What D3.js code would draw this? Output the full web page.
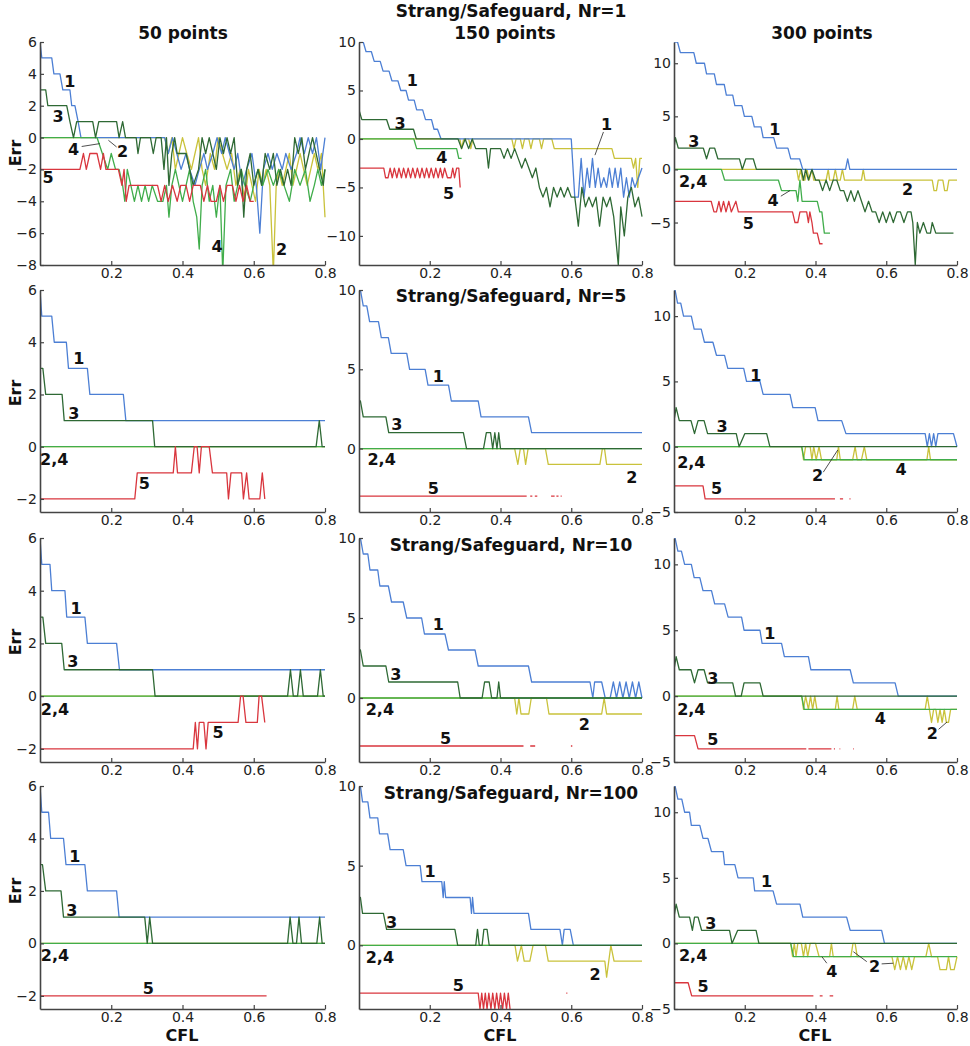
<!DOCTYPE html>
<html>
<head>
<meta charset="utf-8">
<script src="https://cdn.jsdelivr.net/npm/d3@7"></script>
<style>
body { margin: 0; background: #fff; }
text { font-family: "DejaVu Sans", sans-serif; }
</style>
</head>
<body>
<svg id="chart" width="970" height="1046"></svg>
<script>
// Err vs CFL, Strang/Safeguard; rows = Nr, columns = grid points
// each series: [CFL, Err] vertices, null Err = gap in the line

const rowNames = ["Strang/Safeguard, Nr=1", "Strang/Safeguard, Nr=5", "Strang/Safeguard, Nr=10", "Strang/Safeguard, Nr=100"];
const colNames = ["50 points", "150 points", "300 points"];
const xTicks = [0.2, 0.4, 0.6, 0.8];
const yDomainNr1 = [[-8, 6], [-13, 10], [-9, 12]];
const yDomainRest = [[-2.5, 6], [-4, 10], [-5, 12]];
const yTicksNr1 = [[-8, -6, -4, -2, 0, 2, 4, 6], [-10, -5, 0, 5, 10], [-5, 0, 5, 10]];
const yTicksRest = [[-2, 0, 2, 4, 6], [0, 5, 10], [-5, 0, 5, 10]];
const zeroLine = [[0, 0], [0.8, 0]];

// ---------- Nr = 1 ----------
const nr1_p50_s1 = [[0,6],[0.005,5],[0.033,5],[0.039,4],[0.056,4],[0.064,3],[0.084,3],[0.089,2],[0.098,2],[0.107,1],[0.115,0],[0.35,0],[0.36,-1],[0.372,0],[0.384,-1],[0.396,-2],[0.41,-1],[0.42,-2],[0.435,-3],[0.447,-2],[0.46,-1],[0.47,-2],[0.485,-1],[0.497,0],[0.51,-1],[0.52,0],[0.532,-1],[0.545,-2],[0.555,-1],[0.568,-3],[0.58,-2],[0.595,-1],[0.607,-3],[0.617,-6],[0.627,-2],[0.64,-1],[0.652,-2],[0.665,-1],[0.68,-2],[0.69,-1],[0.705,-2],[0.72,-1],[0.73,0],[0.742,-1],[0.753,0],[0.765,-1],[0.776,0],[0.788,-2],[0.8,0]];
const nr1_p50_s2 = [[0,0],[0.35,0],[0.36,-1],[0.37,0],[0.38,-2],[0.39,-1],[0.4,0],[0.412,-1],[0.425,-2],[0.435,-1],[0.445,0],[0.455,-2],[0.465,-3],[0.478,-1],[0.49,-2],[0.5,0],[0.512,-1],[0.525,-2],[0.538,-1],[0.55,-3],[0.562,-2],[0.575,-4],[0.585,-2],[0.595,-3],[0.605,-4],[0.615,-2],[0.625,-3],[0.635,-2],[0.645,-3],[0.655,-8.5],[0.663,-3],[0.67,-2],[0.68,-3],[0.69,-2],[0.7,-1],[0.71,-3],[0.72,-2],[0.73,-1],[0.74,-2],[0.75,-3],[0.76,-2],[0.77,-1],[0.78,-2],[0.79,-1],[0.8,-5]];
const nr1_p50_s3 = [[0,3],[0.016,3],[0.022,2],[0.075,2],[0.084,1],[0.094,0],[0.103,1],[0.148,1],[0.156,0],[0.165,1],[0.215,1],[0.222,0],[0.232,1],[0.24,0],[0.27,0],[0.275,-1],[0.282,0],[0.31,0],[0.318,-1],[0.326,0],[0.34,0],[0.348,-2],[0.355,0],[0.362,-3],[0.37,-1],[0.378,0],[0.385,-1],[0.41,-1],[0.42,-2],[0.43,-3],[0.445,-2],[0.455,0],[0.465,-1],[0.475,0],[0.485,-1],[0.495,-2],[0.505,0],[0.515,-1],[0.525,0],[0.535,-1],[0.545,0],[0.555,-3],[0.565,-2],[0.572,-5],[0.58,-2],[0.59,-1],[0.6,-3],[0.612,-2],[0.622,-3],[0.632,-1],[0.645,-2],[0.655,-1],[0.665,-3],[0.675,-2],[0.685,-3],[0.695,-2],[0.705,-3],[0.715,0],[0.725,-1],[0.735,0],[0.745,-2],[0.755,-1],[0.765,0],[0.775,-1],[0.785,-2],[0.795,-3],[0.8,-2]];
const nr1_p50_s4 = [[0,0],[0.16,0],[0.175,-1],[0.19,-2],[0.2,-1],[0.212,-2],[0.222,-2],[0.232,-3],[0.238,-4],[0.245,-2],[0.255,-3],[0.265,-4],[0.275,-3],[0.285,-4],[0.295,-3],[0.305,-4],[0.315,-3],[0.33,-4],[0.345,-4],[0.355,-3],[0.362,-5],[0.37,-3],[0.38,-2],[0.39,-3],[0.4,-4],[0.41,-3],[0.42,-2],[0.43,-4],[0.44,-5],[0.447,-7],[0.455,-3],[0.465,-2],[0.475,-4],[0.485,-3],[0.495,-5],[0.505,-3],[0.513,-8.5],[0.522,-3],[0.535,-2],[0.545,-4],[0.555,-3],[0.565,-2],[0.575,-3],[0.59,-4],[0.6,-3],[0.612,-2],[0.625,-3],[0.64,-2],[0.655,-3],[0.67,-2],[0.685,-3],[0.7,-4],[0.715,-2],[0.73,-3],[0.745,-2],[0.758,-4],[0.77,-3],[0.78,-2],[0.79,-3],[0.8,-2]];
const nr1_p50_s5 = [[0,-2],[0.112,-2],[0.122,-1],[0.13,-2],[0.14,-1],[0.16,-1],[0.17,-2],[0.178,-1],[0.185,-2],[0.22,-2],[0.23,-3],[0.236,-2],[0.242,-4],[0.25,-3],[0.33,-3],[0.34,-4],[0.35,-3],[0.36,-4],[0.372,-3],[0.385,-4],[0.395,-3],[0.41,-3],[0.42,-4],[0.43,-3],[0.45,-3],[0.46,-4],[0.47,-3],[0.48,-4],[0.495,-4],[0.505,-3],[0.515,-4],[0.525,-3],[0.54,-3],[0.55,-4],[0.56,-3],[0.57,-4],[0.58,-3],[0.59,-4],[0.6,-4]];
const nr1_p50_labels = [["1",0.084,3.55],["3",0.051,1.36],["4",0.094,-0.73],["2",0.232,-0.84],["5",0.023,-2.5],["4",0.497,-6.8],["2",0.678,-7.0]];
const nr1_p50_leaders = [[0.117,-0.56,0.168,-0.38],[0.215,-0.59,0.192,-0.17]];

const nr1_p150_s1 = [[0,10],[0.012,10],[0.02,9],[0.035,9],[0.043,8],[0.06,8],[0.068,7],[0.085,7],[0.093,6],[0.11,6],[0.118,5],[0.133,5],[0.14,4],[0.156,4],[0.163,3],[0.18,3],[0.188,2],[0.205,2],[0.212,1],[0.222,1],[0.232,0],[0.6,0],[0.61,-6],[0.62,-6],[0.628,-2],[0.636,-6],[0.645,-3],[0.652,-5],[0.66,-2],[0.668,-5],[0.676,-3],[0.684,-5],[0.692,-4],[0.7,-5],[0.708,-3],[0.716,-5],[0.724,-3],[0.732,-5],[0.74,-3],[0.748,-6],[0.756,-4],[0.764,-6],[0.772,-4],[0.78,-5],[0.79,-4],[0.8,-3]];
const nr1_p150_s2 = [[0,0],[0.285,0],[0.29,-1],[0.296,0],[0.31,0],[0.316,-1],[0.322,0],[0.432,0],[0.438,-1],[0.444,0],[0.456,0],[0.462,-1],[0.468,0],[0.48,0],[0.486,-1],[0.492,0],[0.51,0],[0.516,-1],[0.522,0],[0.545,0],[0.552,-1],[0.715,-1],[0.722,-2],[0.77,-2],[0.776,-3],[0.782,-2],[0.788,-5],[0.794,-2],[0.8,-2]];
const nr1_p150_s3 = [[0,3],[0.008,2],[0.078,2],[0.087,1],[0.154,1],[0.162,0],[0.28,0],[0.29,-1],[0.3,0],[0.31,-1],[0.32,0],[0.33,-1],[0.36,-1],[0.366,-3],[0.372,-1],[0.4,-1],[0.41,-2],[0.42,-1],[0.43,-2],[0.44,-1],[0.45,-2],[0.46,-3],[0.47,-2],[0.48,-3],[0.49,-4],[0.5,-3],[0.51,-5],[0.52,-6],[0.53,-5],[0.54,-7],[0.55,-5],[0.56,-6],[0.57,-5],[0.58,-6],[0.59,-5],[0.6,-6],[0.61,-6],[0.62,-9],[0.63,-5],[0.64,-7],[0.65,-6],[0.66,-7],[0.67,-6],[0.68,-9],[0.69,-6],[0.7,-7],[0.71,-6],[0.72,-8],[0.733,-13],[0.74,-7],[0.75,-10],[0.76,-6],[0.77,-5],[0.78,-7],[0.79,-6],[0.8,-8]];
const nr1_p150_s4 = [[0,0],[0.155,0],[0.163,-1],[0.276,-1],[0.282,-2],[0.29,-2]];
const nr1_p150_s5 = [[0,-3],[0.07,-3],[0.075,-4],[0.082,-4],[0.088,-3],[0.094,-4],[0.1,-3],[0.107,-4],[0.113,-3],[0.12,-4],[0.126,-3],[0.133,-4],[0.139,-3],[0.146,-4],[0.152,-3],[0.159,-4],[0.165,-3],[0.172,-4],[0.178,-3],[0.185,-4],[0.191,-3],[0.198,-4],[0.204,-3],[0.211,-4],[0.217,-3],[0.224,-4],[0.23,-3],[0.236,-4],[0.242,-3],[0.25,-4],[0.26,-4],[0.265,-3],[0.27,-4],[0.276,-3],[0.282,-3],[0.286,-5]];
const nr1_p150_labels = [["1",0.151,6.1],["3",0.116,1.6],["1",0.70,1.5],["4",0.234,-1.9],["5",0.253,-5.6]];
const nr1_p150_leaders = [[0.691,0.72,0.667,-1.67]];

const nr1_p300_s1 = [[0,12],[0.01,12],[0.018,11],[0.056,11],[0.063,10],[0.086,10],[0.092,9],[0.114,9],[0.12,8],[0.142,8],[0.148,7],[0.166,7],[0.172,6],[0.192,6],[0.199,5],[0.22,5],[0.227,4],[0.246,4],[0.252,3],[0.282,3],[0.29,2],[0.322,2],[0.33,1],[0.355,1],[0.364,0],[0.485,0],[0.491,1],[0.497,0],[0.8,0]];
const nr1_p300_s2 = [[0,0],[0.347,0],[0.352,-1],[0.358,0],[0.363,-1],[0.37,-1],[0.376,0],[0.382,-1],[0.39,0],[0.395,-1],[0.43,-1],[0.436,0],[0.44,-1],[0.45,-1],[0.456,0],[0.462,-1],[0.47,-1],[0.476,0],[0.482,-1],[0.53,-1],[0.535,0],[0.54,-1],[0.73,-1],[0.735,-2],[0.742,-2],[0.747,-1],[0.76,-1],[0.765,-2],[0.772,-2],[0.777,-1],[0.8,-1]];
const nr1_p300_s3 = [[0,2],[0.004,3],[0.012,2],[0.083,2],[0.092,1],[0.101,2],[0.115,2],[0.124,1],[0.185,1],[0.193,0],[0.203,1],[0.224,1],[0.233,0],[0.36,0],[0.366,-1],[0.372,0],[0.38,-1],[0.39,0],[0.4,-1],[0.41,-1],[0.42,-2],[0.43,-1],[0.44,-2],[0.45,-1],[0.46,-1],[0.47,-2],[0.48,-2],[0.49,-3],[0.5,-2],[0.51,-3],[0.52,-2],[0.53,-3],[0.54,-4],[0.55,-3],[0.56,-4],[0.57,-4],[0.58,-5],[0.59,-4],[0.6,-5],[0.61,-4],[0.62,-5],[0.63,-4],[0.64,-4],[0.65,-5],[0.66,-4],[0.67,-4],[0.675,-5],[0.682,-9],[0.688,-5],[0.695,-6],[0.705,-5],[0.715,-6],[0.725,-6],[0.73,-5],[0.74,-6],[0.79,-6]];
const nr1_p300_s4 = [[0,0],[0.134,0],[0.143,-1],[0.295,-1],[0.304,-2],[0.345,-2],[0.35,-3],[0.356,-1],[0.362,-3],[0.405,-3],[0.412,-4],[0.418,-4],[0.425,-6],[0.441,-6]];
const nr1_p300_s5 = [[0,-3],[0.105,-3],[0.113,-4],[0.12,-4],[0.127,-3],[0.133,-4],[0.14,-3],[0.147,-4],[0.155,-3],[0.162,-4],[0.175,-3],[0.182,-4],[0.335,-4],[0.342,-5],[0.35,-5],[0.356,-4],[0.375,-4],[0.38,-5],[0.384,-4],[0.39,-5],[0.394,-6],[0.405,-6],[0.412,-7],[0.42,-7]];
const nr1_p300_labels = [["3",0.056,2.7],["1",0.285,3.8],["2,4",0.054,-1.1],["4",0.28,-2.9],["5",0.21,-5.05],["2",0.66,-1.9]];
const nr1_p300_leaders = [[0.302,-2.52,0.328,-1.99]];

// ---------- Nr = 5 ----------
const nr5_p50_s1 = [[0,6],[0.005,5],[0.033,5],[0.04,4],[0.074,4],[0.08,3],[0.133,3],[0.14,2],[0.234,2],[0.241,1],[0.8,1]];
const nr5_p50_s3 = [[0,3],[0.008,3],[0.016,2],[0.062,2],[0.068,1],[0.316,1],[0.322,0],[0.775,0],[0.784,1],[0.792,0],[0.8,0]];
const nr5_p50_s5 = [[0,-2],[0.266,-2],[0.273,-1],[0.374,-1],[0.38,0],[0.386,-1],[0.425,-1],[0.433,0],[0.441,0],[0.447,-1],[0.453,0],[0.475,0],[0.484,-1],[0.524,-1],[0.529,-2],[0.536,-1],[0.566,-1],[0.571,-2],[0.58,-1],[0.587,-2],[0.617,-2],[0.624,-1],[0.631,-2]];
const nr5_p50_labels = [["1",0.109,3.4],["3",0.095,1.3],["2,4",0.04,-0.47],["5",0.293,-1.38]];

const nr5_p150_s1 = [[0,10],[0.004,10],[0.012,9],[0.022,9],[0.03,8],[0.055,8],[0.063,7],[0.083,7],[0.091,6],[0.135,6],[0.143,5],[0.187,5],[0.195,4],[0.253,4],[0.261,3],[0.337,3],[0.345,2],[0.479,2],[0.488,1],[0.8,1]];
const nr5_p150_s2 = [[0,0],[0.44,0],[0.449,-1],[0.456,0],[0.465,0],[0.471,-1],[0.478,0],[0.527,0],[0.535,-1],[0.681,-1],[0.688,0],[0.694,0],[0.7,-1],[0.8,-1]];
const nr5_p150_s3 = [[0,3],[0.004,3],[0.012,2],[0.076,2],[0.084,1],[0.295,1],[0.304,0],[0.352,0],[0.36,1],[0.372,1],[0.378,0],[0.384,1],[0.39,0],[0.395,1],[0.4,0],[0.8,0]];
const nr5_p150_s5 = [[0,-3],[0.474,-3],[0.476,null],[0.484,-3],[0.49,-3],[0.492,null],[0.497,-3],[0.504,-3],[0.506,null],[0.543,-3],[0.553,-3],[0.555,null],[0.558,-3],[0.564,-3],[0.566,null],[0.57,-3],[0.573,-3]];
const nr5_p150_labels = [["1",0.224,4.56],["3",0.107,1.53],["2,4",0.064,-0.67],["5",0.21,-2.5],["2",0.771,-1.82]];

const nr5_p300_s1 = [[0,12],[0.003,12],[0.01,11],[0.019,11],[0.027,10],[0.049,10],[0.057,9],[0.077,9],[0.086,8],[0.11,8],[0.12,7],[0.143,7],[0.152,6],[0.197,6],[0.205,5],[0.243,5],[0.252,4],[0.328,4],[0.336,3],[0.399,3],[0.407,2],[0.474,2],[0.486,1],[0.71,1],[0.716,0],[0.722,1],[0.728,0],[0.734,1],[0.74,0],[0.746,1],[0.79,1],[0.8,0]];
const nr5_p300_s2 = [[0,0],[0.361,0],[0.366,-1],[0.372,0],[0.385,0],[0.39,-1],[0.395,0],[0.402,-1],[0.41,0],[0.417,-1],[0.46,-1],[0.465,0],[0.47,-1],[0.505,-1],[0.512,0],[0.518,-1],[0.53,-1],[0.538,0],[0.545,-1],[0.715,-1],[0.72,0],[0.725,-1],[0.8,-1]];
const nr5_p300_s3 = [[0,2],[0.006,3],[0.015,2],[0.048,2],[0.058,1],[0.068,2],[0.085,2],[0.095,1],[0.176,1],[0.184,0],[0.2,1],[0.262,1],[0.271,0],[0.8,0]];
const nr5_p300_s4 = [[0,0],[0.361,0],[0.368,-1],[0.8,-1]];
const nr5_p300_s5 = [[0,-3],[0.082,-3],[0.088,-4],[0.455,-4],[0.457,null],[0.469,-4],[0.478,-4],[0.48,null],[0.496,-4],[0.499,-4]];
const nr5_p300_labels = [["1",0.231,5.5],["3",0.136,1.6],["2,4",0.049,-1.2],["2",0.406,-2.2],["4",0.642,-1.75],["5",0.12,-3.2]];
const nr5_p300_leaders = [[0.422,-1.95,0.463,-0.25]];

// ---------- Nr = 10 ----------
const nr10_p50_s1 = [[0,6],[0.005,5],[0.028,5],[0.033,4],[0.07,4],[0.075,3],[0.126,3],[0.133,2],[0.215,2],[0.223,1],[0.8,1]];
const nr10_p50_s3 = [[0,3],[0.008,3],[0.016,2],[0.061,2],[0.068,1],[0.316,1],[0.323,0],[0.695,0],[0.703,1],[0.711,0],[0.723,0],[0.731,1],[0.739,0],[0.779,0],[0.787,1],[0.795,0],[0.8,0]];
const nr10_p50_s5 = [[0,-2],[0.43,-2],[0.436,-1],[0.442,-2],[0.447,-1],[0.46,-1],[0.466,-2],[0.472,-1],[0.556,-1],[0.563,0],[0.57,0],[0.578,-1],[0.61,-1],[0.615,0],[0.622,0],[0.631,-1]];
const nr10_p50_labels = [["1",0.101,3.33],["3",0.092,1.31],["2,4",0.042,-0.48],["5",0.5,-1.36]];

const nr10_p150_s1 = [[0,10],[0.004,10],[0.012,9],[0.025,9],[0.031,8],[0.053,8],[0.059,7],[0.083,7],[0.092,6],[0.125,6],[0.135,5],[0.177,5],[0.185,4],[0.243,4],[0.253,3],[0.328,3],[0.337,2],[0.479,2],[0.488,1],[0.653,1],[0.661,0],[0.666,1],[0.686,1],[0.696,0],[0.71,0],[0.719,1],[0.728,0],[0.737,1],[0.746,0],[0.755,1],[0.764,0],[0.773,1],[0.782,0],[0.791,1],[0.8,0]];
const nr10_p150_s2 = [[0,0],[0.44,0],[0.446,-1],[0.452,0],[0.458,-1],[0.48,-1],[0.487,0],[0.53,0],[0.537,-1],[0.686,-1],[0.693,0],[0.7,-1],[0.8,-1]];
const nr10_p150_s3 = [[0,3],[0.004,3],[0.012,2],[0.076,2],[0.084,1],[0.279,1],[0.286,0],[0.348,0],[0.355,1],[0.368,1],[0.375,0],[0.39,0],[0.395,1],[0.4,0],[0.8,0]];
const nr10_p150_s5 = [[0,-3],[0.465,-3],[0.467,null],[0.484,-3],[0.498,-3],[0.5,null],[0.599,-3],[0.603,-3]];
const nr10_p150_labels = [["1",0.224,4.58],["3",0.104,1.5],["2,4",0.059,-0.73],["5",0.245,-2.54],["2",0.637,-1.63]];

const nr10_p300_s1 = [[0,12],[0.003,12],[0.011,11],[0.021,11],[0.03,10],[0.049,10],[0.057,9],[0.073,9],[0.082,8],[0.106,8],[0.115,7],[0.143,7],[0.153,6],[0.191,6],[0.198,5],[0.243,5],[0.249,4],[0.304,4],[0.312,3],[0.38,3],[0.387,2],[0.498,2],[0.507,1],[0.625,1],[0.634,0],[0.8,0]];
const nr10_p300_s2 = [[0,0],[0.361,0],[0.366,-1],[0.372,0],[0.38,-1],[0.386,0],[0.392,-1],[0.398,0],[0.404,-1],[0.456,-1],[0.461,0],[0.466,-1],[0.505,-1],[0.511,0],[0.518,-1],[0.71,-1],[0.716,0],[0.722,-1],[0.728,-2],[0.734,-1],[0.74,-1],[0.746,-2],[0.752,-1],[0.758,-2],[0.764,-1],[0.77,-2],[0.776,-2],[0.782,-1],[0.8,-1]];
const nr10_p300_s3 = [[0,2],[0.006,3],[0.015,2],[0.048,2],[0.058,1],[0.068,2],[0.085,2],[0.095,1],[0.166,1],[0.174,0],[0.19,0],[0.198,1],[0.243,1],[0.252,0],[0.8,0]];
const nr10_p300_s4 = [[0,0],[0.361,0],[0.368,-1],[0.8,-1]];
const nr10_p300_s5 = [[0,-3],[0.058,-3],[0.068,-4],[0.374,-4],[0.376,null],[0.38,-4],[0.445,-4],[0.447,null],[0.452,-4],[0.455,-4],[0.457,null],[0.468,-4],[0.47,-4],[0.472,null],[0.506,-4],[0.508,-4]];
const nr10_p300_labels = [["1",0.271,4.74],["3",0.11,1.39],["2,4",0.049,-1.0],["4",0.583,-1.71],["2",0.73,-2.85],["5",0.11,-3.27]];
const nr10_p300_leaders = [[0.748,-2.52,0.772,-1.96]];

// ---------- Nr = 100 ----------
const nr100_p50_s1 = [[0,6],[0.005,5],[0.024,5],[0.03,4],[0.066,4],[0.073,3],[0.126,3],[0.133,2],[0.215,2],[0.222,1],[0.8,1]];
const nr100_p50_s3 = [[0,3],[0.007,3],[0.016,2],[0.059,2],[0.066,1],[0.294,1],[0.301,0],[0.308,1],[0.316,0],[0.695,0],[0.702,1],[0.71,0],[0.72,0],[0.727,1],[0.734,0],[0.777,0],[0.785,1],[0.792,0],[0.8,0]];
const nr100_p50_s5 = [[0,-2],[0.636,-2]];
const nr100_p50_labels = [["1",0.098,3.34],["3",0.089,1.26],["2,4",0.042,-0.44],["5",0.304,-1.7]];

const nr100_p150_s1 = [[0,10],[0.004,10],[0.01,9],[0.025,9],[0.031,8],[0.053,8],[0.058,7],[0.081,7],[0.088,6],[0.125,6],[0.133,5],[0.173,5],[0.178,4],[0.234,4],[0.238,3],[0.241,4],[0.245,3],[0.314,3],[0.318,2],[0.321,3],[0.325,2],[0.479,2],[0.486,1],[0.568,1],[0.575,0],[0.58,1],[0.597,1],[0.606,0],[0.8,0]];
const nr100_p150_s2 = [[0,0],[0.441,0],[0.448,-1],[0.459,0],[0.467,-1],[0.483,-1],[0.492,0],[0.527,0],[0.535,-1],[0.695,-1],[0.7,-2],[0.712,0],[0.721,-1],[0.8,-1]];
const nr100_p150_s3 = [[0,3],[0.004,3],[0.01,2],[0.069,2],[0.078,1],[0.271,1],[0.279,0],[0.33,0],[0.335,1],[0.34,0],[0.348,0],[0.353,1],[0.362,1],[0.368,0],[0.8,0]];
const nr100_p150_s5 = [[0,-3],[0.337,-3],[0.342,-4],[0.347,-3],[0.352,-4],[0.357,-3],[0.362,-4],[0.367,-3],[0.373,-4],[0.378,-3],[0.384,-4],[0.389,-3],[0.395,-4],[0.4,-3],[0.406,-4],[0.411,-3],[0.417,-4],[0.422,-3],[0.427,-4],[0.43,null],[0.586,-3],[0.589,-3]];
const nr100_p150_labels = [["1",0.201,4.68],["3",0.092,1.43],["2,4",0.059,-0.78],["5",0.281,-2.5],["2",0.667,-1.79]];

const nr100_p300_s1 = [[0,12],[0.003,12],[0.011,11],[0.022,11],[0.03,10],[0.044,10],[0.049,9],[0.073,9],[0.082,8],[0.096,8],[0.106,7],[0.139,7],[0.143,6],[0.172,6],[0.181,5],[0.224,5],[0.228,4],[0.28,4],[0.29,3],[0.356,3],[0.364,2],[0.488,2],[0.498,1],[0.587,1],[0.595,0],[0.8,0]];
const nr100_p300_s2 = [[0,0],[0.33,0],[0.335,-1],[0.34,0],[0.345,-1],[0.35,0],[0.36,0],[0.366,-1],[0.372,0],[0.378,-1],[0.385,0],[0.4,0],[0.41,-1],[0.44,-1],[0.445,0],[0.45,-1],[0.5,-1],[0.506,0],[0.512,0],[0.518,-1],[0.616,-1],[0.624,-2],[0.632,-1],[0.64,-2],[0.648,-1],[0.656,-2],[0.664,-1],[0.672,-2],[0.68,-1],[0.712,-1],[0.72,0],[0.728,-1],[0.745,-1],[0.752,-2],[0.77,-2],[0.776,-1],[0.782,-2],[0.792,-2],[0.8,-1]];
const nr100_p300_s3 = [[0,2],[0.006,3],[0.015,2],[0.044,2],[0.052,1],[0.058,2],[0.068,2],[0.078,1],[0.157,1],[0.164,0],[0.18,1],[0.232,1],[0.24,0],[0.8,0]];
const nr100_p300_s4 = [[0,0],[0.33,0],[0.338,-1],[0.8,-1]];
const nr100_p300_s5 = [[0,-3],[0.04,-3],[0.05,-4],[0.394,-4],[0.396,null],[0.412,-4],[0.42,-4],[0.422,null],[0.44,-4],[0.45,-4]];
const nr100_p300_labels = [["1",0.262,4.74],["3",0.104,1.56],["2,4",0.054,-0.88],["4",0.446,-2.14],["2",0.567,-1.76],["5",0.082,-3.27]];
const nr100_p300_leaders = [[0.432,-1.51,0.418,-1.01],[0.545,-1.39,0.507,-0.63],[0.587,-1.56,0.62,-1.51]];

// series colours 1..5
const colors = ["#4c7fd4", "#c9c23b", "#2e6934", "#40ad4b", "#d9363e"];
// draw order: 2, 1, 4, 3, 5
const drawOrder = [1, 0, 3, 2, 4];

// panel table: [series 1..5, labels, leaders] per row / column
const grid = [
    [[[nr1_p50_s1, nr1_p50_s2, nr1_p50_s3, nr1_p50_s4, nr1_p50_s5], nr1_p50_labels, nr1_p50_leaders],
     [[nr1_p150_s1, nr1_p150_s2, nr1_p150_s3, nr1_p150_s4, nr1_p150_s5], nr1_p150_labels, nr1_p150_leaders],
     [[nr1_p300_s1, nr1_p300_s2, nr1_p300_s3, nr1_p300_s4, nr1_p300_s5], nr1_p300_labels, nr1_p300_leaders]],
    [[[nr5_p50_s1, zeroLine, nr5_p50_s3, zeroLine, nr5_p50_s5], nr5_p50_labels, []],
     [[nr5_p150_s1, nr5_p150_s2, nr5_p150_s3, zeroLine, nr5_p150_s5], nr5_p150_labels, []],
     [[nr5_p300_s1, nr5_p300_s2, nr5_p300_s3, nr5_p300_s4, nr5_p300_s5], nr5_p300_labels, nr5_p300_leaders]],
    [[[nr10_p50_s1, zeroLine, nr10_p50_s3, zeroLine, nr10_p50_s5], nr10_p50_labels, []],
     [[nr10_p150_s1, nr10_p150_s2, nr10_p150_s3, zeroLine, nr10_p150_s5], nr10_p150_labels, []],
     [[nr10_p300_s1, nr10_p300_s2, nr10_p300_s3, nr10_p300_s4, nr10_p300_s5], nr10_p300_labels, nr10_p300_leaders]],
    [[[nr100_p50_s1, zeroLine, nr100_p50_s3, zeroLine, nr100_p50_s5], nr100_p50_labels, []],
     [[nr100_p150_s1, nr100_p150_s2, nr100_p150_s3, zeroLine, nr100_p150_s5], nr100_p150_labels, []],
     [[nr100_p300_s1, nr100_p300_s2, nr100_p300_s3, nr100_p300_s4, nr100_p300_s5], nr100_p300_labels, nr100_p300_leaders]]
];

// layout in pixels
const colX = [[40, 325], [359, 642], [674, 957]];
const rowY = [[42, 265], [290, 512], [538, 762], [786, 1009]];

const svg = d3.select("#chart");

function drawPanel(r, c) {
    const [series, labels, leaders] = grid[r][c];
    const yDomain = r === 0 ? yDomainNr1[c] : yDomainRest[c];
    const yTicks = r === 0 ? yTicksNr1[c] : yTicksRest[c];
    const x = d3.scaleLinear().domain([0, 0.8]).range(colX[c]);
    const y = d3.scaleLinear().domain(yDomain).range([rowY[r][1], rowY[r][0]]);

    const g = svg.append("g");
    const clipId = "clip-" + r + "-" + c;
    g.append("clipPath").attr("id", clipId)
        .append("rect")
        .attr("x", colX[c][0]).attr("y", rowY[r][0])
        .attr("width", colX[c][1] - colX[c][0] + 2)
        .attr("height", rowY[r][1] - rowY[r][0]);

    const line = d3.line()
        .defined(d => d[1] !== null)
        .x(d => x(d[0]))
        .y(d => y(d[1]));

    const plot = g.append("g").attr("clip-path", "url(#" + clipId + ")");
    drawOrder.forEach(i => {
        plot.append("path")
            .datum(series[i])
            .attr("fill", "none")
            .attr("stroke", colors[i])
            .attr("stroke-width", 1.3)
            .attr("stroke-linejoin", "round")
            .attr("d", line);
    });

    // axes, ticks pointing inwards
    const yAxis = g.append("g")
        .attr("transform", "translate(" + colX[c][0] + ",0)")
        .call(d3.axisLeft(y).tickValues(yTicks).tickSizeInner(-4).tickSizeOuter(0).tickPadding(3));
    const xAxis = g.append("g")
        .attr("transform", "translate(0," + rowY[r][1] + ")")
        .call(d3.axisBottom(x).tickValues(xTicks).tickSizeInner(-4).tickSizeOuter(0).tickPadding(3));
    [xAxis, yAxis].forEach(a => {
        a.select(".domain").attr("stroke", "#444").attr("stroke-width", 1.6);
        a.selectAll(".tick line").attr("stroke", "#444").attr("stroke-width", 1.2);
        a.selectAll("text").attr("font-size", 14).attr("fill", "#222")
            .attr("font-family", "DejaVu Sans, sans-serif");
    });

    // curve labels and leader lines
    g.selectAll(".leader").data(leaders).enter().append("line")
        .attr("x1", d => x(d[0])).attr("y1", d => y(d[1]))
        .attr("x2", d => x(d[2])).attr("y2", d => y(d[3]))
        .attr("stroke", "#222").attr("stroke-width", 0.8);
    g.selectAll(".lbl").data(labels).enter().append("text")
        .attr("x", d => x(d[1])).attr("y", d => y(d[2]))
        .attr("dy", "0.36em")
        .attr("text-anchor", "middle")
        .attr("font-size", 16).attr("font-weight", "bold").attr("fill", "#111")
        .text(d => d[0]);
}

for (let r = 0; r < 4; r++) {
    for (let c = 0; c < 3; c++) drawPanel(r, c);
}

// titles
const titleStyle = sel => sel.attr("text-anchor", "middle").attr("font-size", 17)
    .attr("font-weight", "bold").attr("fill", "#111");
svg.append("text").attr("x", 183).attr("y", 39).text(colNames[0]).call(titleStyle);
svg.append("text").attr("x", 505).attr("y", 39).text(colNames[1]).call(titleStyle);
svg.append("text").attr("x", 822).attr("y", 39).text(colNames[2]).call(titleStyle);
const rowTitleY = [17, 302, 551, 799];
rowNames.forEach((t, i) => {
    svg.append("text").attr("x", 511).attr("y", rowTitleY[i]).text(t).call(titleStyle);
});

// axis titles
const errY = [153, 393, 642, 891];
errY.forEach(v => {
    svg.append("text")
        .attr("transform", "translate(21," + v + ") rotate(-90)")
        .attr("text-anchor", "middle")
        .attr("font-size", 16).attr("font-weight", "bold").attr("fill", "#111")
        .text("Err");
});
[182, 500, 815].forEach(v => {
    svg.append("text").attr("x", v).attr("y", 1041)
        .attr("text-anchor", "middle")
        .attr("font-size", 16).attr("font-weight", "bold").attr("fill", "#111")
        .text("CFL");
});
</script>
</body>
</html>
